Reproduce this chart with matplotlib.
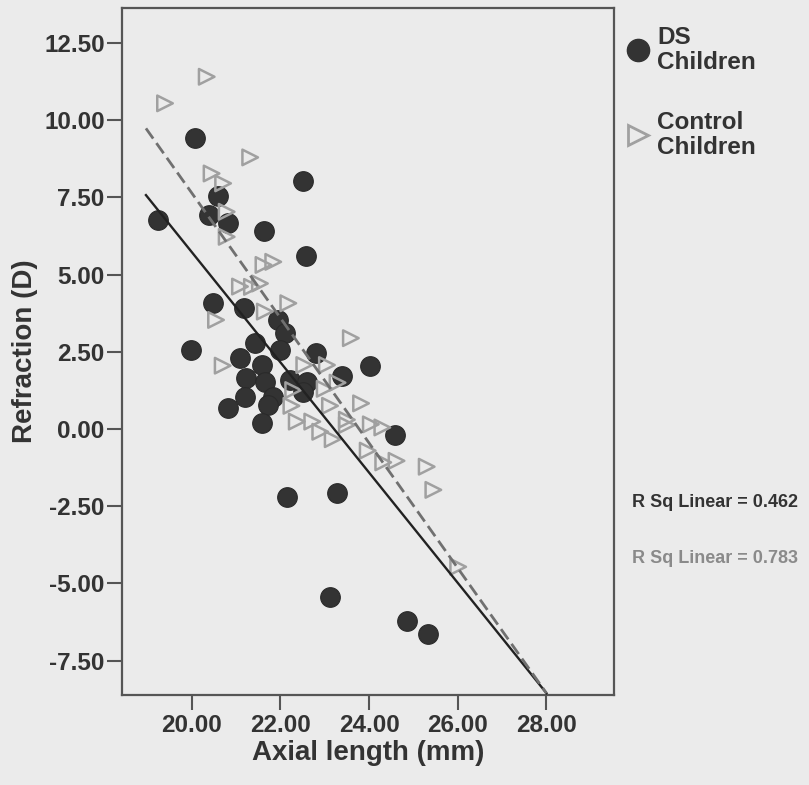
import matplotlib.pyplot as plt
from matplotlib.lines import Line2D
from matplotlib.ticker import FormatStrFormatter

plt.rcParams['font.family'] = ['Liberation Sans', 'DejaVu Sans']

# DS children (axial length mm, refraction D)
ds_axial = [20.08, 22.52, 20.60, 20.40, 20.83, 19.25, 21.63, 22.57, 20.49, 21.17,
            21.95, 22.11, 19.98, 21.43, 21.99, 22.80, 24.02, 21.08, 21.58, 23.38,
            21.23, 21.66, 22.22, 22.60, 21.20, 21.84, 22.52, 20.81, 21.73, 21.58,
            24.59, 22.14, 23.27, 23.12, 24.85, 25.34]
ds_refr = [9.41, 8.04, 7.54, 6.93, 6.66, 6.76, 6.42, 5.60, 4.07, 3.91,
           3.53, 3.10, 2.56, 2.77, 2.56, 2.47, 2.04, 2.29, 2.07, 1.72,
           1.64, 1.53, 1.59, 1.53, 1.05, 1.05, 1.21, 0.67, 0.78, 0.18,
           -0.19, -2.19, -2.08, -5.45, -6.20, -6.63]

# control children
ctrl_axial = [20.34, 19.40, 21.32, 20.45, 20.71, 20.79, 20.79, 21.62, 21.84, 21.09,
              21.36, 21.54, 22.18, 20.55, 21.65, 23.59, 20.70, 22.54, 23.05, 23.29,
              22.29, 23.00, 23.82, 22.25, 23.12, 22.37, 22.72, 23.50, 23.50, 24.04,
              24.30, 22.90, 23.18, 23.97, 24.32, 24.62, 25.30, 25.45, 26.01]
ctrl_refr = [11.40, 10.54, 8.79, 8.27, 7.95, 7.03, 6.22, 5.31, 5.41, 4.61,
             4.60, 4.71, 4.07, 3.53, 3.80, 2.94, 2.05, 2.07, 2.07, 1.50,
             1.26, 1.30, 0.83, 0.75, 0.75, 0.24, 0.24, 0.30, 0.13, 0.15,
             0.05, -0.09, -0.33, -0.70, -1.08, -1.03, -1.22, -1.97, -4.46]

# fit lines, ends
fit_x = [18.97, 28.0]
ds_fit = [7.57, -8.55]
ctrl_fit = [9.73, -8.55]
r2_text = ['R Sq Linear = 0.462', 'R Sq Linear = 0.783']
legend_labels = ['DS\nChildren', 'Control\nChildren']

x_ticks = [20, 22, 24, 26, 28]
y_ticks = [12.5, 10, 7.5, 5, 2.5, 0, -2.5, -5, -7.5]

bg = '#ebebeb'
ink = '#333333'
fig = plt.figure(figsize=(8.09, 7.85), dpi=100, facecolor=bg)
ax = fig.add_axes([0.1508, 0.1146, 0.608, 0.875])
ax.set_facecolor(bg)

ax.scatter(ds_axial, ds_refr, s=200, color=ink, edgecolors='#2a2a2a',
           linewidths=0.8, zorder=3)
ax.scatter(ctrl_axial, ctrl_refr, s=125, marker='>', facecolors='none',
           edgecolors='#a0a0a0', linewidths=1.8, zorder=4)

ax.plot(fit_x, ds_fit, color='#222222', lw=1.7, zorder=5)
ax.plot(fit_x, ctrl_fit, color='#707070', lw=2, dashes=(4.5, 2), zorder=5)

ax.set_xlim(18.43, 29.52)
ax.set_ylim(-8.61, 13.62)
ax.set_xticks(x_ticks)
ax.set_yticks(y_ticks)
ax.xaxis.set_major_formatter(FormatStrFormatter('%.2f'))
ax.yaxis.set_major_formatter(FormatStrFormatter('%.2f'))
ax.tick_params(direction='out', length=11, width=1.5, color='#555555',
               labelsize=17.5, labelcolor=ink)
ax.tick_params(axis='y', pad=1.5)
ax.tick_params(axis='x', pad=3)
for lab in ax.get_xticklabels() + ax.get_yticklabels():
    lab.set_fontweight('bold')
for sp in ax.spines.values():
    sp.set_color('#555555')
    sp.set_linewidth(1.6)

ax.set_xlabel('Axial length (mm)', fontsize=20, fontweight='bold', color=ink, labelpad=2)
ax.set_ylabel('Refraction (D)', fontsize=20, fontweight='bold', color=ink, labelpad=4)

# legend, outside the plot frame
fig.add_artist(Line2D([0.7886], [0.9363], transform=fig.transFigure, marker='o',
                      markersize=16, color=ink, linestyle='none'))
fig.add_artist(Line2D([0.7886], [0.828], transform=fig.transFigure, marker='>',
                      markersize=14, markerfacecolor='none', markeredgecolor='#a0a0a0',
                      markeredgewidth=2, linestyle='none'))
fig.text(0.812, 0.9363, legend_labels[0], fontsize=17.5, fontweight='bold', color=ink,
         va='center', linespacing=1.1)
fig.text(0.812, 0.828, legend_labels[1], fontsize=17.5, fontweight='bold', color=ink,
         va='center', linespacing=1.1)

fig.text(0.781, 0.3605, r2_text[0], fontsize=13, fontweight='bold', color=ink, va='center')
fig.text(0.781, 0.289, r2_text[1], fontsize=13, fontweight='bold', color='#8a8a8a', va='center')

fig.savefig('out.png', dpi=100, facecolor=bg)
